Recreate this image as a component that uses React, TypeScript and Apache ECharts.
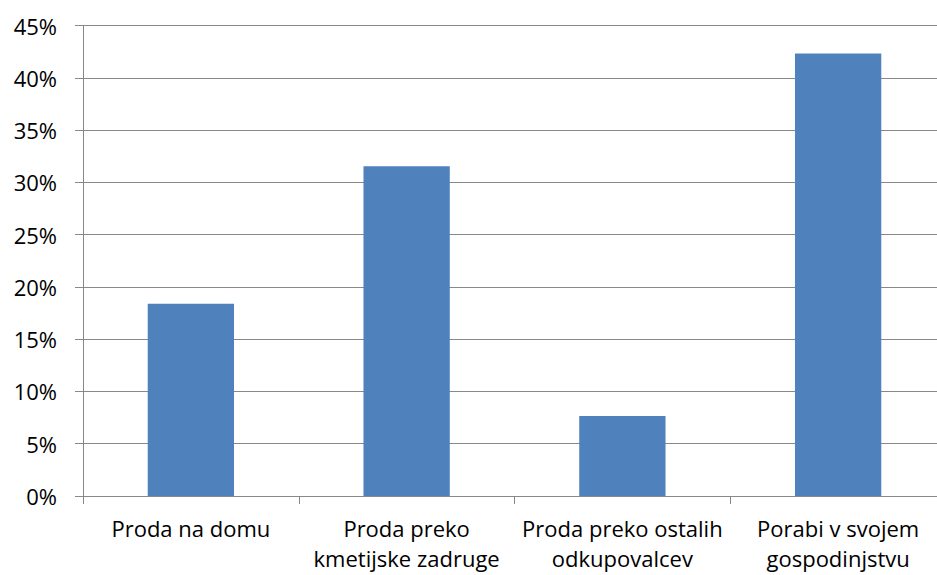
import React, { useEffect, useRef } from "react";
import * as echarts from "echarts";

const categories = [
  "Proda na domu",
  "Proda preko\nkmetijske zadruge",
  "Proda preko ostalih\nodkupovalcev",
  "Porabi v svojem\ngospodinjstvu",
];
const shares = [18.4, 31.55, 7.65, 42.33];
const yTicks = { min: 0, max: 45, interval: 5 };

export default function App() {
  const ref = useRef<HTMLDivElement>(null);
  useEffect(() => {
    document.body.style.margin = "0";
    document.body.style.overflow = "hidden";
    const chart = echarts.init(ref.current!, null, { renderer: "svg" });
    chart.setOption({
      animation: false,
      textStyle: { fontFamily: "Open Sans" },
      grid: { left: 83, top: 25.7, bottom: 79, right: 9 },
      xAxis: {
        type: "category",
        data: categories,
        axisLine: { lineStyle: { color: "#888888", width: 1 } },
        axisTick: { show: true, length: 8, lineStyle: { color: "#888888" } },
        axisLabel: {
          color: "#000000",
          fontSize: 22,
          lineHeight: 30,
          margin: 17,
          interval: 0,
          fontFamily: "Open Sans",
        },
      },
      yAxis: {
        type: "value",
        min: yTicks.min,
        max: yTicks.max,
        interval: yTicks.interval,
        axisLine: { show: true, lineStyle: { color: "#888888", width: 1 } },
        axisTick: { show: true, length: 8, lineStyle: { color: "#888888" } },
        splitLine: { show: true, lineStyle: { color: "#888888", width: 1 } },
        axisLabel: {
          color: "#000000",
          fontSize: 22,
          margin: 26,
          fontFamily: "Open Sans",
          formatter: (v: number) => `${v}%`,
        },
      },
      series: [
        {
          type: "bar",
          data: shares,
          barWidth: "40%",
          itemStyle: { color: "#4F81BD" },
        },
      ],
    });
    return () => chart.dispose();
  }, []);
  return (
    <div style={{ width: 937, height: 575, overflow: "hidden", position: "relative" }}>
      <div ref={ref} style={{ width: 955, height: 575, position: "absolute", left: 0, top: 0 }} />
    </div>
  );
}
